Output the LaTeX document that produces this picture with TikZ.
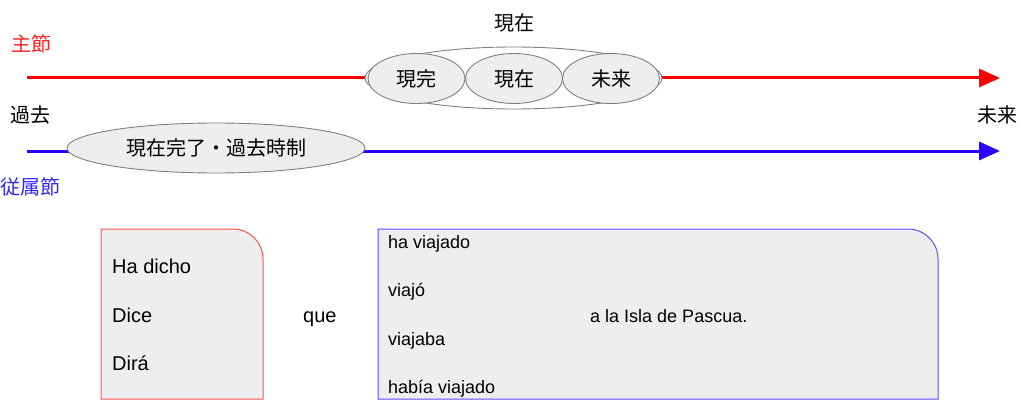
\documentclass[tikz,border=0pt]{standalone}
\usepackage{fontspec}
\setmainfont{Liberation Sans}
\newfontfamily\jp{Noto Sans CJK JP}
\usetikzlibrary{shapes.geometric,arrows.meta}
\definecolor{boxfill}{HTML}{EEEEEE}
\definecolor{ellborder}{HTML}{808080}
\definecolor{mainred}{HTML}{FF0000}
\definecolor{subblue}{HTML}{2A00FF}
\definecolor{lightred}{HTML}{FF5050}
\definecolor{lightblue}{HTML}{5A4CFF}
\definecolor{labelred}{HTML}{FF2222}
\definecolor{labelblue}{HTML}{3322FF}
\begin{document}
\begin{tikzpicture}[x=1pt,y=-1pt,
  timeline/.style={line width=3pt,-{Triangle[length=21pt,width=18pt]}},
  jplabel/.style={font=\jp\fontsize{20}{24}\selectfont,inner sep=0pt,anchor=center},
  bigell/.style={ellipse,draw=ellborder,line width=0.9pt,fill=white,minimum width=297pt,minimum height=62pt,inner sep=0pt},
  smallell/.style={ellipse,draw=ellborder,line width=0.9pt,fill=boxfill,minimum width=97pt,minimum height=50pt,inner sep=0pt,font=\jp\fontsize{20}{24}\selectfont},
  subell/.style={ellipse,draw=ellborder,line width=0.9pt,fill=boxfill,minimum width=298pt,minimum height=50pt,inner sep=0pt,font=\jp\fontsize{20}{24}\selectfont},
  lefttext/.style={font=\fontsize{20}{24}\selectfont,inner sep=0pt,anchor=base west},
  righttext/.style={font=\fontsize{18}{22}\selectfont,inner sep=0pt,anchor=base west}
]
\useasboundingbox (0,0) rectangle (1024,417);

% timelines
\coordinate (rs) at (27,78);
\coordinate (re) at (1000,78);
\coordinate (bs) at (27,151);
\coordinate (be) at (1000,151);
\draw[timeline,mainred] (rs) -- (re);
\draw[timeline,subblue] (bs) -- (be);

% ellipses
\node[bigell] (big) at (513.5,78) {};
\node[smallell] (genkan) at (416.5,78.5) {現完};
\node[smallell] (genzai) at (514,78.5) {現在};
\node[smallell] (mirai) at (611,78.5) {未来};
\node[subell] (sub) at (216,148) {現在完了・過去時制};

% labels
\node[jplabel] (top) at (514,23) {現在};
\node[jplabel,text=labelred] (shusetsu) at (31,44) {主節};
\node[jplabel] (kako) at (30,115) {過去};
\node[jplabel] (miraiR) at (997,115) {未来};
\node[jplabel,text=labelblue] (jusetsu) at (30,187) {従属節};

% left box
\draw[draw=lightred,fill=boxfill,line width=1pt]
  (101,399) -- (101,229) -- (233,229)
  .. controls (249.57,229) and (263,242.43) .. (263,259)
  -- (263,399) -- cycle;
\node[lefttext] (hadicho) at (112,273) {Ha dicho};
\node[lefttext] (dice) at (112,322) {Dice};
\node[lefttext] (dira) at (112,370) {Dirá};

\node[lefttext] (que) at (303,322) {que};

% right box
\draw[draw=lightblue,fill=boxfill,line width=1pt]
  (378,399) -- (378,229) -- (908,229)
  .. controls (924.57,229) and (938,242.43) .. (938,259)
  -- (938,399) -- cycle;
\node[righttext] (v1) at (388,248) {ha viajado};
\node[righttext] (v2) at (388,296) {viajó};
\node[righttext] (v3) at (388,345) {viajaba};
\node[righttext] (v4) at (388,393) {había viajado};
\node[righttext] (isla) at (590,322) {a la Isla de Pascua.};
\end{tikzpicture}
\end{document}
